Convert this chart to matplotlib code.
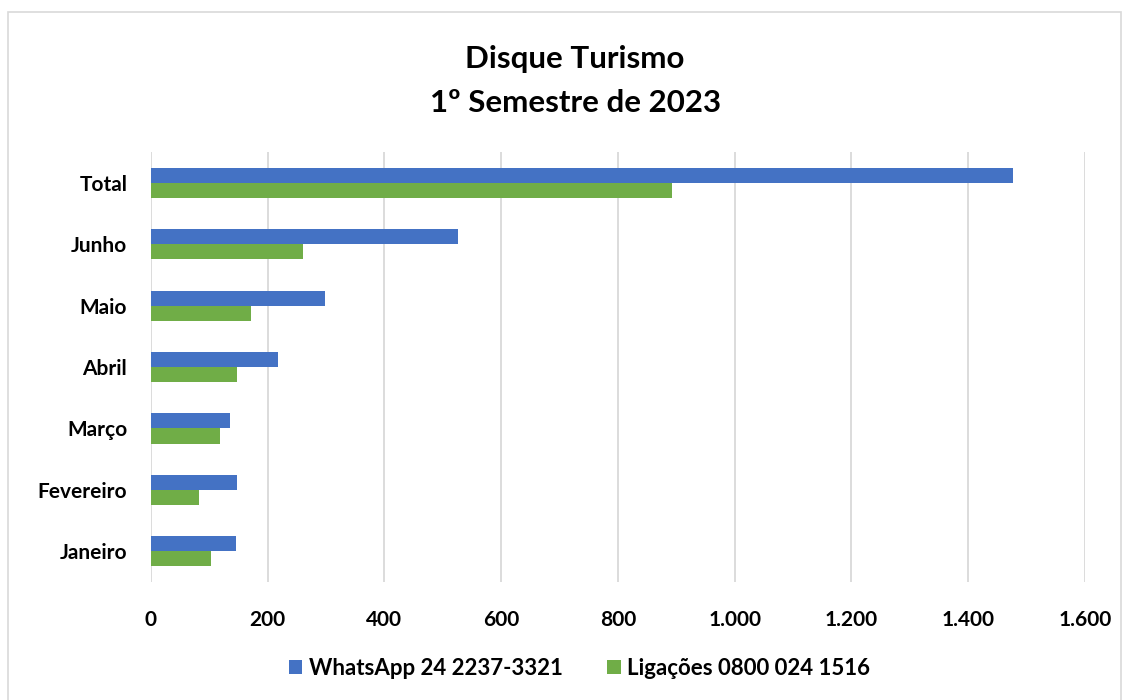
import matplotlib.pyplot as plt
import numpy as np
from matplotlib.patches import Rectangle
from matplotlib.ticker import FuncFormatter

categories = ['Janeiro', 'Fevereiro', 'Março', 'Abril', 'Maio', 'Junho', 'Total']
whatsapp = [145, 148, 135, 217, 299, 526, 1477]
ligacoes = [102, 82, 118, 148, 171, 260, 892]
series_names = ['WhatsApp 24 2237-3321', 'Ligações 0800 024 1516']

plt.rcParams['font.family'] = ['Lato', 'DejaVu Sans']

fig = plt.figure(figsize=(11.3, 7), dpi=100)
ax = fig.add_axes([0.1336, 0.1686, 0.8265, 0.614])

y = np.arange(len(categories))
h = 0.245
ax.barh(y + h / 2, whatsapp, height=h, color='#4472C4', label=series_names[0], zorder=3)
ax.barh(y - h / 2, ligacoes, height=h, color='#70AD47', label=series_names[1], zorder=3)

ax.set_xlim(0, 1600)
ax.set_ylim(-0.5, len(categories) - 0.5)
ax.set_xticks(range(0, 1601, 200))
ax.xaxis.set_major_formatter(FuncFormatter(lambda v, p: f'{int(v):,}'.replace(',', '.')))
ax.set_yticks(y)
ax.set_yticklabels(categories)
ax.grid(axis='x', color='#D9D9D9', linewidth=1.3, zorder=0)
for s in ax.spines.values():
    s.set_visible(False)
ax.tick_params(length=0, labelsize=15, colors='#000000')
ax.tick_params(axis='x', pad=20)
ax.tick_params(axis='y', pad=17)
for lab in ax.get_xticklabels() + ax.get_yticklabels():
    lab.set_fontweight('bold')

fig.text(0.509, 0.916, 'Disque Turismo', ha='center', va='center', fontsize=22.5, fontweight='bold')
fig.text(0.509, 0.853, '1º Semestre de 2023', ha='center', va='center', fontsize=22.5, fontweight='bold')

leg = fig.legend(loc='center', bbox_to_anchor=(0.513, 0.045), ncol=2, frameon=False,
                 handlelength=0.6, handleheight=0.6, handletextpad=0.3, columnspacing=2.0,
                 prop={'size': 16, 'weight': 'bold'})

fig.patches.append(Rectangle((0.007, -0.01), 0.985, 0.993, transform=fig.transFigure,
                             fill=False, edgecolor='#D9D9D9', linewidth=1.2))

fig.savefig('out.png', dpi=100)
